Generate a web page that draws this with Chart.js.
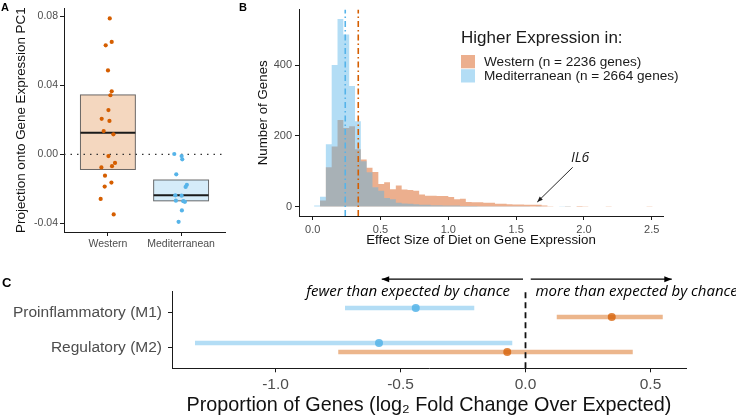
<!DOCTYPE html>
<html>
<head>
<meta charset="utf-8">
<script src="https://cdn.jsdelivr.net/npm/chart.js@4.4.0/dist/chart.umd.min.js"></script>
<style>
  body { margin: 0; background: #fff; width: 736px; height: 417px; position: relative; overflow: hidden; font-family: "Liberation Sans", Arial, sans-serif; }
  canvas { position: absolute; }
  .tag { position: absolute; font-weight: bold; color: #000; z-index: 2; }
</style>
</head>
<body>
<canvas id="chartA" width="232" height="260" style="left:0;top:0"></canvas>
<canvas id="chartB" width="504" height="260" style="left:232px;top:0"></canvas>
<canvas id="chartC" width="736" height="157" style="left:0;top:260px"></canvas>
<div class="tag" style="left:1px;top:1px;font-size:11px">A</div>
<div class="tag" style="left:239px;top:1px;font-size:11px">B</div>
<div class="tag" style="left:2px;top:275px;font-size:13px">C</div>

<script>
// ---- Panel A : projection onto PC1 ----
const dietGroups = ['Western', 'Mediterranean'];
const westernPC1 = [0.0789, 0.0633, 0.0653, 0.0487, 0.0366, 0.0343, 0.0257, 0.0206, 0.0194, 0.0135,
                    0.0116, -0.0010, -0.0050, -0.0069, -0.0076, -0.0124, -0.0164, -0.0187, -0.0259, -0.0349];
const westernJitter = [0.025, -0.03, 0.052, 0.001, 0.052, 0.034, 0.007, -0.085, 0.021, -0.058,
                       0.075, 0.007, 0.097, 0.056, -0.089, -0.04, 0.048, -0.044, -0.099, 0.079];
const medPC1 = [0.0002, -0.0010, -0.0029, -0.0116, -0.0177, -0.0189, -0.0238, -0.0240, -0.0269, -0.0272,
                -0.0276, -0.0326, -0.0392];
const medJitter = [-0.093, 0.007, 0.016, -0.066, 0.079, 0.062, -0.079, 0.007, -0.071, 0.03, 0.052, 0.011, -0.034];
const boxQ1 = [-0.0088, -0.0270];
const boxMedian = [0.0126, -0.0238];
const boxQ3 = [0.0345, -0.0149];
const pc1Ticks = [-0.04, 0, 0.04, 0.08];

// ---- Panel B : effect size histogram (bin centres, empty bins padded at both ends) ----
const binCenters = [-0.0105, 0.0325, 0.0755, 0.1185, 0.1615, 0.2045, 0.2475, 0.2905, 0.3335, 0.3765, 0.4195,
  0.4625, 0.5055, 0.5485, 0.5915, 0.6345, 0.6775, 0.7205, 0.7635, 0.8065, 0.8495,
  0.8925, 0.9355, 0.9785, 1.0215, 1.0645, 1.1075, 1.1505, 1.1935, 1.2365, 1.2795,
  1.3225, 1.3655, 1.4085, 1.4515, 1.4945, 1.5375, 1.5805, 1.6235, 1.6665, 1.7095,
  1.7525, 1.7955, 1.8385, 1.8815, 1.9245, 1.9675, 2.0105, 2.0535, 2.0965, 2.1395,
  2.1825, 2.2255, 2.2685, 2.3115, 2.3545, 2.3975, 2.4405, 2.4835, 2.5265];
const westernCounts = [0, 0, 17, 111, 170, 245, 222, 227, 162, 133, 110,
  98, 64, 69, 49, 60, 48, 47, 45, 34, 31,
  31, 30, 30, 27, 21, 22, 13, 12, 12, 11,
  11, 8, 8, 7, 6, 6, 5, 5, 5, 3,
  1, 0, 0, 1, 0, 2, 1, 0, 0, 0,
  1, 0, 0, 0, 0, 0, 0, 1, 0];
const medCounts = [0, 3, 28, 176, 400, 530, 486, 341, 241, 128, 97,
  55, 45, 24, 21, 11, 9, 8, 7, 5, 5,
  4, 4, 3, 3, 3, 2, 2, 2, 1, 1,
  1, 1, 1, 1, 1, 1, 1, 0, 1, 0,
  0, 0, 1, 1, 0, 0, 0, 0, 0, 0,
  0, 0, 0, 0, 0, 0, 0, 0, 0];
const medianEffect = [0.336, 0.240];   // Western, Mediterranean
const geneTotals = [2236, 2664];
const effectTicks = [0, 0.5, 1, 1.5, 2, 2.5];
const countTicks = [0, 200, 400];
const il6Label = { x: 1.971, y: 137 };
const il6Arrow = [[1.917, 111], [1.656, 13]];

// ---- Panel C : enrichment in macrophage sets ----
const cellTypes = ['Proinflammatory (M1)', 'Regulatory (M2)'];
const rowY = [2, 1];
const westEst = [0.345, -0.073];
const westLow = [0.125, -0.749];
const westHigh = [0.549, 0.429];
const medEst = [-0.439, -0.586];
const medLow = [-0.722, -1.322];
const medHigh = [-0.205, -0.053];
const foldTicks = [-1, -0.5, 0, 0.5];

const ORANGE = '#D55E00', BLUE = '#56B4E9';
const AXIS = '#1a1a1a', TICK = '#4d4d4d';

Chart.defaults.font.family = '"Liberation Sans", Arial, sans-serif';

function axis(extra) {
  return Object.assign({
    type: 'linear',
    offset: false,
    border: { display: true, color: AXIS, width: 1 },
    grid: { display: true, drawOnChartArea: false, drawTicks: true, tickLength: 4, color: AXIS, offset: false }
  }, extra);
}
const baseOpts = {
  responsive: false, animation: false, events: [], devicePixelRatio: 1,
  plugins: { legend: { display: false }, tooltip: { enabled: false } }
};

function arrow(ctx, x0, y0, x1, y1, head) {
  const a = Math.atan2(y1 - y0, x1 - x0);
  ctx.beginPath(); ctx.moveTo(x0, y0); ctx.lineTo(x1, y1); ctx.stroke();
  ctx.beginPath();
  ctx.moveTo(x1, y1);
  ctx.lineTo(x1 - head * Math.cos(a - 0.38), y1 - head * Math.sin(a - 0.38));
  ctx.lineTo(x1 - head * Math.cos(a + 0.38), y1 - head * Math.sin(a + 0.38));
  ctx.closePath(); ctx.fill();
}

// boxes (no whiskers) behind the points
const boxPlugin = {
  id: 'boxes',
  beforeDatasetsDraw(chart) {
    const { ctx, scales: { x, y } } = chart;
    const fills = ['rgba(213,94,0,0.25)', 'rgba(86,180,233,0.25)'];
    ctx.save();
    dietGroups.forEach((g, i) => {
      const x0 = x.getPixelForValue(i + 1 - 0.375), x1 = x.getPixelForValue(i + 1 + 0.375);
      const top = y.getPixelForValue(boxQ3[i]), bot = y.getPixelForValue(boxQ1[i]);
      ctx.fillStyle = fills[i];
      ctx.fillRect(x0, top, x1 - x0, bot - top);
      ctx.strokeStyle = 'rgba(60,60,60,0.75)';
      ctx.lineWidth = 1;
      ctx.strokeRect(x0, top, x1 - x0, bot - top);
      const m = y.getPixelForValue(boxMedian[i]);
      ctx.strokeStyle = '#1a1a1a';
      ctx.lineWidth = 2;
      ctx.beginPath(); ctx.moveTo(x0, m); ctx.lineTo(x1, m); ctx.stroke();
    });
    ctx.restore();
  }
};

new Chart(document.getElementById('chartA'), {
  type: 'scatter',
  data: {
    datasets: [
      { data: westernPC1.map((v, i) => ({ x: 1 + westernJitter[i], y: v })), backgroundColor: ORANGE, pointRadius: 2.1, borderWidth: 0 },
      { data: medPC1.map((v, i) => ({ x: 2 + medJitter[i], y: v })), backgroundColor: BLUE, pointRadius: 2.1, borderWidth: 0 },
      { data: [{ x: 0.4, y: 0 }, { x: 2.6, y: 0 }], showLine: true, borderColor: '#333', borderWidth: 1.4,
        borderDash: [1.5, 5], pointRadius: 0 }
    ]
  },
  options: Object.assign({}, baseOpts, {
    layout: { padding: { top: 5, right: 7, left: 0, bottom: 0 } },
    scales: {
      x: axis({
        min: 0.4, max: 2.6,
        afterFit: s => { s.height = 28; },
        afterBuildTicks: s => { s.ticks = [1, 2].map(v => ({ value: v })); },
        ticks: { callback: (v, i) => dietGroups[i], color: TICK, font: { size: 10.5 }, padding: 2, maxRotation: 0, autoSkip: false }
      }),
      y: axis({
        min: -0.0451, max: 0.0848,
        afterFit: s => { s.width = 64; },
        afterBuildTicks: s => { s.ticks = pc1Ticks.map(v => ({ value: v })); },
        ticks: { callback: v => v.toFixed(2), color: TICK, font: { size: 10.5 }, padding: 2 },
        title: { display: true, text: 'Projection onto Gene Expression PC1', color: '#111', font: { size: 13.4 }, padding: { top: 13, bottom: 0 } }
      })
    }
  }),
  plugins: [boxPlugin]
});

// legend + IL6 note for panel B
const histNotes = {
  id: 'histNotes',
  afterDraw(chart) {
    const { ctx, scales: { x, y } } = chart;
    ctx.save();
    ctx.fillStyle = '#1a1a1a';
    ctx.textBaseline = 'middle';
    ctx.font = '17px "Liberation Sans", Arial, sans-serif';
    ctx.fillText('Higher Expression in:', 229, 38);
    const sw = ['rgba(220,110,50,0.55)', 'rgba(86,180,233,0.45)'];
    const names = ['Western', 'Mediterranean'];
    ctx.font = '13.6px "Liberation Sans", Arial, sans-serif';
    names.forEach((n, i) => {
      ctx.fillStyle = sw[i];
      ctx.fillRect(229, 55 + i * 14.2, 14, 13.3);
      ctx.fillStyle = '#1a1a1a';
      ctx.fillText(n + ' (n = ' + geneTotals[i] + ' genes)', 252, 62 + i * 14.6);
    });
    ctx.font = 'italic 14px "Open Sans", sans-serif';
    ctx.textAlign = 'center';
    ctx.fillText('IL6', x.getPixelForValue(il6Label.x), y.getPixelForValue(il6Label.y));
    ctx.strokeStyle = '#111'; ctx.lineWidth = 0.9;
    arrow(ctx, x.getPixelForValue(il6Arrow[0][0]), y.getPixelForValue(il6Arrow[0][1]),
      x.getPixelForValue(il6Arrow[1][0]), y.getPixelForValue(il6Arrow[1][1]), 6);
    ctx.restore();
  }
};

// histograms as filled step outlines (steps fall midway between bin centres)
const histArea = { showLine: true, stepped: 'middle', fill: 'origin', borderWidth: 0, pointRadius: 0 };
new Chart(document.getElementById('chartB'), {
  type: 'scatter',
  data: {
    datasets: [
      { data: [{ x: medianEffect[1], y: -26.5 }, { x: medianEffect[1], y: 556.5 }], showLine: true, borderColor: BLUE,
        borderWidth: 1.6, borderDash: [6, 3, 1.5, 3], pointRadius: 0 },
      { data: [{ x: medianEffect[0], y: -26.5 }, { x: medianEffect[0], y: 556.5 }], showLine: true, borderColor: ORANGE,
        borderWidth: 1.6, borderDash: [6, 3, 1.5, 3], pointRadius: 0 },
      Object.assign({ data: binCenters.map((c, i) => ({ x: c, y: medCounts[i] })), backgroundColor: 'rgba(86,180,233,0.45)', borderColor: 'rgba(0,0,0,0)' }, histArea),
      Object.assign({ data: binCenters.map((c, i) => ({ x: c, y: westernCounts[i] })), backgroundColor: 'rgba(220,110,50,0.55)', borderColor: 'rgba(0,0,0,0)' }, histArea)
    ]
  },
  options: Object.assign({}, baseOpts, {
    layout: { padding: { top: 6.4, right: 73, left: 0, bottom: 0 } },
    scales: {
      x: axis({
        min: -0.101, max: 2.583,
        afterFit: s => { s.height = 44; },
        afterBuildTicks: s => { s.ticks = effectTicks.map(v => ({ value: v })); },
        ticks: { callback: v => v.toFixed(1), color: TICK, font: { size: 11 }, padding: 3, maxRotation: 0, autoSkip: false },
        title: { display: true, text: 'Effect Size of Diet on Gene Expression', color: '#111', font: { size: 13.3 }, padding: { top: 0, bottom: 12 } }
      }),
      y: axis({
        min: -26.5, max: 556.5,
        afterFit: s => { s.width = 67; },
        afterBuildTicks: s => { s.ticks = countTicks.map(v => ({ value: v })); },
        ticks: { color: TICK, font: { size: 11 }, padding: 3 },
        title: { display: true, text: 'Number of Genes', color: '#111', font: { size: 13.3 }, padding: { top: 23, bottom: 0 } }
      })
    }
  }),
  plugins: [histNotes]
});

// arrows + captions above panel C
const chanceNotes = {
  id: 'chanceNotes',
  afterDraw(chart) {
    const { ctx, scales: { x, y } } = chart;
    ctx.save();
    ctx.strokeStyle = '#000'; ctx.fillStyle = '#000'; ctx.lineWidth = 1.3;
    const ay = y.getPixelForValue(2.96);
    arrow(ctx, x.getPixelForValue(-0.01), ay, x.getPixelForValue(-0.575), ay, 8);
    arrow(ctx, x.getPixelForValue(0.021), ay, x.getPixelForValue(0.585), ay, 8);
    ctx.font = 'italic 15px "Open Sans", sans-serif';
    ctx.textBaseline = 'middle';
    const ty = y.getPixelForValue(2.6);
    ctx.textAlign = 'right';
    ctx.fillText('fewer than expected by chance', x.getPixelForValue(-0.062), ty);
    ctx.textAlign = 'left';
    ctx.fillText('more than expected by chance', x.getPixelForValue(0.04), ty);
    ctx.restore();
  }
};

const dodge = 0.13;
const interval = (lo, hi, yy, color) => ({
  data: [{ x: lo, y: yy }, { x: hi, y: yy }], showLine: true, borderColor: color, borderWidth: 4.5,
  borderCapStyle: 'butt', pointRadius: 0
});
new Chart(document.getElementById('chartC'), {
  type: 'scatter',
  data: {
    datasets: [
      { data: [{ x: 0, y: 0.4 }, { x: 0, y: 2.6 }], showLine: true, borderColor: '#111', borderWidth: 1.8,
        borderDash: [6, 4], pointRadius: 0 },
      { data: medEst.map((v, i) => ({ x: v, y: rowY[i] + dodge })), backgroundColor: 'rgba(86,180,233,0.85)', pointRadius: 4, borderWidth: 0 },
      { data: westEst.map((v, i) => ({ x: v, y: rowY[i] - dodge })), backgroundColor: 'rgba(213,94,0,0.75)', pointRadius: 4, borderWidth: 0 },
      ...medLow.map((lo, i) => interval(lo, medHigh[i], rowY[i] + dodge, 'rgba(86,180,233,0.45)')),
      ...westLow.map((lo, i) => interval(lo, westHigh[i], rowY[i] - dodge, 'rgba(213,94,0,0.45)'))
    ]
  },
  options: Object.assign({}, baseOpts, {
    layout: { padding: { top: 31.7, right: 50, left: 0, bottom: 0 } },
    scales: {
      x: axis({
        min: -1.414, max: 0.642,
        afterFit: s => { s.height = 48.7; },
        afterBuildTicks: s => { s.ticks = foldTicks.map(v => ({ value: v })); },
        ticks: { callback: v => v.toFixed(1), color: TICK, font: { size: 15.5 }, padding: 3, maxRotation: 0, autoSkip: false },
        title: { display: true, text: 'Proportion of Genes (log\u2082 Fold Change Over Expected)', color: '#111', font: { size: 19.8 }, padding: { top: 0, bottom: 0 } }
      }),
      y: axis({
        min: 0.4, max: 2.6,
        afterFit: s => { s.width = 172; },
        afterBuildTicks: s => { s.ticks = rowY.map(v => ({ value: v })); },
        ticks: { callback: v => cellTypes[rowY.indexOf(v)], color: TICK, font: { size: 15.5 }, padding: 6 }
      })
    }
  }),
  plugins: [chanceNotes]
});
</script>
</body>
</html>
